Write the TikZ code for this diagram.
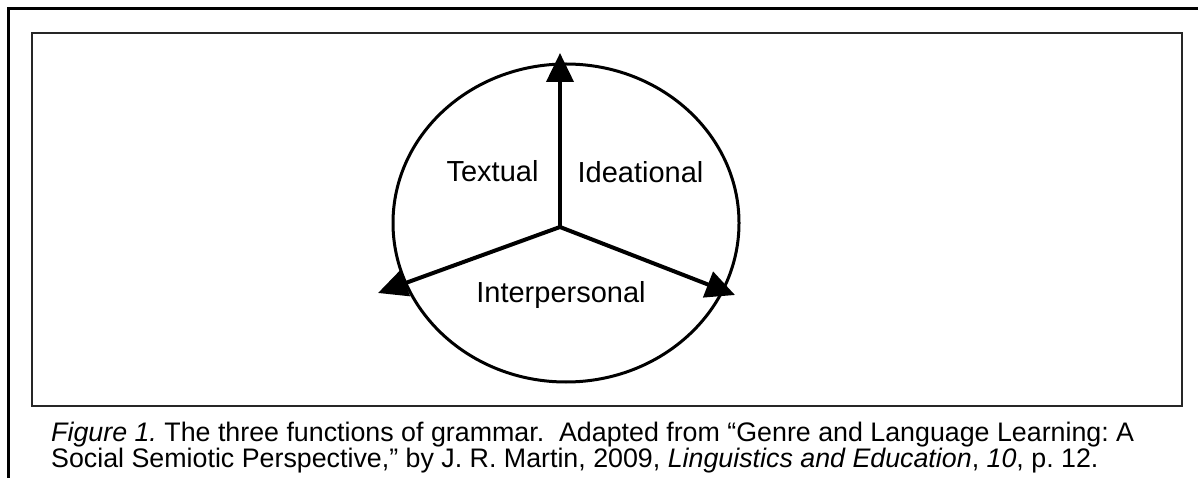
\documentclass[tikz,border=0pt]{standalone}
\usepackage{fontspec}
\setmainfont{Liberation Sans}
\usetikzlibrary{arrows.meta}
\frenchspacing
\tikzset{
  frameline/.style={line width=3pt, line cap=rect},
  innerbox/.style={line width=1.6pt, draw=black!85},
  ring/.style={line width=3pt},
  spoke/.style={line width=4pt, -{Triangle[length=29pt,width=27pt]}},
  lbl/.style={font=\fontsize{29}{33}\selectfont, inner sep=0pt, anchor=base},
  captext/.style={font=\fontsize{26.8}{30}\selectfont, inner sep=0pt, anchor=base west}
}
\begin{document}
\begin{tikzpicture}[x=1pt,y=-1pt]
\useasboundingbox (0,0) rectangle (1198,478);
\draw[frameline] (8,480) -- (8,9) -- (1200,9);
\draw[innerbox] (32,33) rectangle (1182,406);
\draw[ring] (566,223) ellipse [x radius=173, y radius=159];
\coordinate (c) at (560,227);
\coordinate (ttop) at (560,53);
\coordinate (tleft) at (378,293);
\coordinate (tright) at (735,295);
\draw[spoke] (c) -- (ttop);
\draw[spoke] (c) -- (tleft);
\draw[spoke] (c) -- (tright);
\draw[line width=4pt, line cap=round] (c) -- ++(0,-0.1);
\node[lbl] (textual) at (492.5,182) {Textual};
\node[lbl] (ideational) at (640.5,183) {Ideational};
\node[lbl] (interp) at (561,302) {Interpersonal};
\node[captext] (cap1) at (51,441.5) {\textit{Figure 1.} The three functions of grammar.\ \ Adapted from “Genre and Language Learning: A};
\node[captext] (cap2) at (51,467.5) {Social Semiotic Perspective,” by J. R. Martin, 2009, \textit{Linguistics and Education}, \textit{10}, p. 12.};
\end{tikzpicture}
\end{document}
